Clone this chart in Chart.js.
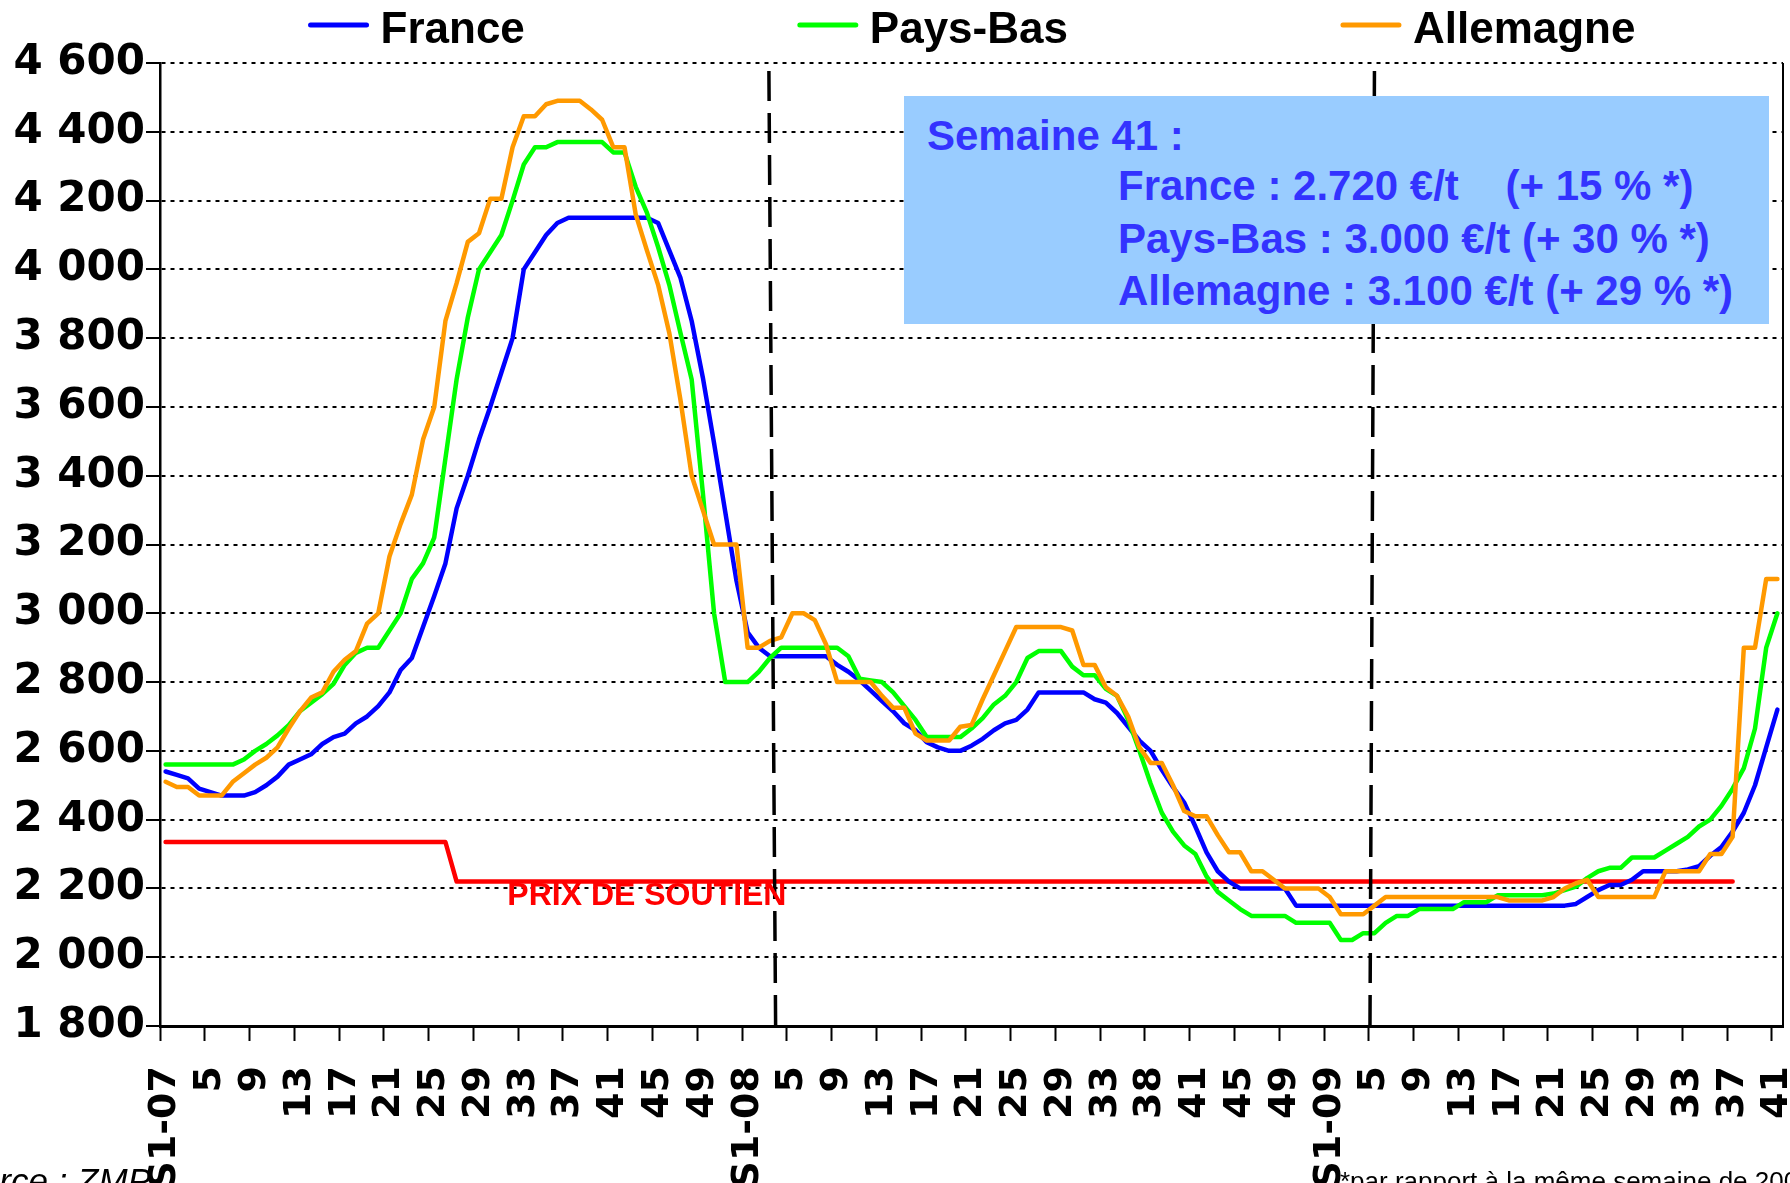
<!DOCTYPE html>
<html lang="fr">
<head>
<meta charset="utf-8">
<title>Prix hebdomadaires</title>
<script src="https://cdn.jsdelivr.net/npm/chart.js@4.4.1/dist/chart.umd.min.js"></script>
<style>
  html, body { margin: 0; padding: 0; background: #fff; overflow: hidden; }
  #cadre { position: relative; width: 1790px; height: 1183px; }
  #encadre {
    position: absolute; left: 904px; top: 96px; width: 865px; height: 228px;
    background: #99ccff; color: #3333ff;
    font: bold 42px "Liberation Sans", Arial, sans-serif;
  }
  #encadre div { position: absolute; white-space: pre; line-height: 48px; }
</style>
</head>
<body>
<div id="cadre">
  <canvas id="graphique" width="1790" height="1183"></canvas>
  <div id="encadre">
    <div style="left:23px; top:16px">Semaine 41 :</div>
    <div style="left:214px; top:66px">France : 2.720 €/t    (+ 15 % *)</div>
    <div style="left:214px; top:119px">Pays-Bas : 3.000 €/t (+ 30 % *)</div>
    <div style="left:214px; top:171px">Allemagne : 3.100 €/t (+ 29 % *)</div>
  </div>
</div>
<script>
// semaines : S1-07 .. 52, S1-08 .. 52, S1-09 .. 41
function semaines(annee, liste) {
  return liste.map((s, i) => (i === 0 ? 'S1-' + annee : String(s)));
}
function suite(a, b) {
  const r = [];
  for (let s = a; s <= b; s++) r.push(s);
  return r;
}
const semaines2007 = suite(1, 52);
const semaines2008 = [...suite(1, 36), 38, ...suite(38, 52)];
const semaines2009 = suite(1, 41);
const categories = [
  ...semaines('07', semaines2007),
  ...semaines('08', semaines2008),
  ...semaines('09', semaines2009),
];

// €/t
const france = [
  2540, 2530, 2520, 2490, 2480, 2470, 2470, 2470, 2480, 2500, 2525, 2560, 2575,
  2590, 2620, 2640, 2650, 2680, 2700, 2730, 2770, 2835, 2870, 2960, 3050, 3145,
  3305, 3400, 3505, 3600, 3700, 3800, 4000, 4050, 4100, 4135, 4150, 4150, 4150,
  4150, 4150, 4150, 4150, 4150, 4135, 4055, 3975, 3850, 3685, 3495, 3295, 3095,
  2945, 2900, 2875, 2875, 2875, 2875, 2875, 2875, 2850, 2830, 2805, 2775, 2745,
  2715, 2680, 2660, 2625, 2610, 2600, 2600, 2615, 2635, 2660, 2680, 2690, 2720,
  2770, 2770, 2770, 2770, 2770, 2750, 2740, 2710, 2670, 2630, 2600, 2545, 2495,
  2450, 2380, 2305, 2250, 2220, 2200, 2200, 2200, 2200, 2200, 2150, 2150, 2150,
  2150, 2150, 2150, 2150, 2150, 2150, 2150, 2150, 2150, 2150, 2150, 2150, 2150,
  2150, 2150, 2150, 2150, 2150, 2150, 2150, 2150, 2150, 2155, 2175, 2195, 2210,
  2210, 2225, 2250, 2250, 2250, 2250, 2255, 2265, 2295, 2320, 2365, 2420, 2500,
  2610, 2720,
];
const paysBas = [
  2560, 2560, 2560, 2560, 2560, 2560, 2560, 2575, 2600, 2620, 2645, 2675, 2715,
  2740, 2765, 2795, 2850, 2885, 2900, 2900, 2950, 3000, 3100, 3145, 3220, 3450,
  3680, 3860, 4000, 4050, 4100, 4200, 4305, 4355, 4355, 4370, 4370, 4370, 4370,
  4370, 4340, 4340, 4240, 4165, 4065, 3955, 3815, 3680, 3350, 3000, 2800, 2800,
  2800, 2830, 2870, 2900, 2900, 2900, 2900, 2900, 2900, 2875, 2810, 2805, 2800,
  2770, 2730, 2690, 2640, 2640, 2640, 2640, 2665, 2695, 2735, 2760, 2800, 2870,
  2890, 2890, 2890, 2845, 2820, 2820, 2780, 2760, 2690, 2600, 2505, 2420, 2365,
  2325, 2300, 2235, 2190, 2165, 2140, 2120, 2120, 2120, 2120, 2100, 2100, 2100,
  2100, 2050, 2050, 2070, 2070, 2100, 2120, 2120, 2140, 2140, 2140, 2140, 2160,
  2160, 2160, 2180, 2180, 2180, 2180, 2180, 2185, 2195, 2205, 2230, 2250, 2260,
  2260, 2290, 2290, 2290, 2310, 2330, 2350, 2380, 2400, 2440, 2490, 2550, 2665,
  2900, 3000,
];
const allemagne = [
  2510, 2495, 2495, 2470, 2470, 2470, 2510, 2535, 2560, 2580, 2610, 2665, 2715,
  2755, 2770, 2830, 2865, 2890, 2970, 3000, 3165, 3260, 3345, 3505, 3600, 3850,
  3960, 4080, 4105, 4205, 4205, 4355, 4445, 4445, 4480, 4490, 4490, 4490, 4465,
  4435, 4355, 4355, 4160, 4055, 3955, 3815, 3620, 3400, 3300, 3200, 3200, 3200,
  2900, 2900, 2920, 2930, 3000, 3000, 2980, 2910, 2800, 2800, 2800, 2800, 2760,
  2725, 2725, 2650, 2630, 2630, 2630, 2670, 2675, 2750, 2820, 2890, 2960, 2960,
  2960, 2960, 2960, 2950, 2850, 2850, 2785, 2760, 2700, 2610, 2565, 2565, 2500,
  2425, 2410, 2410, 2355, 2305, 2305, 2250, 2250, 2225, 2200, 2200, 2200, 2200,
  2175, 2125, 2125, 2125, 2150, 2175, 2175, 2175, 2175, 2175, 2175, 2175, 2175,
  2175, 2175, 2175, 2165, 2165, 2165, 2165, 2175, 2200, 2215, 2225, 2175, 2175,
  2175, 2175, 2175, 2175, 2250, 2250, 2250, 2250, 2300, 2300, 2350, 2900, 2900,
  3100, 3100,
];
const prixSoutien = [
  2335, 2335, 2335, 2335, 2335, 2335, 2335, 2335, 2335, 2335, 2335, 2335, 2335,
  2335, 2335, 2335, 2335, 2335, 2335, 2335, 2335, 2335, 2335, 2335, 2335, 2335,
  2220, 2220, 2220, 2220, 2220, 2220, 2220, 2220, 2220, 2220, 2220, 2220, 2220,
  2220, 2220, 2220, 2220, 2220, 2220, 2220, 2220, 2220, 2220, 2220, 2220, 2220,
  2220, 2220, 2220, 2220, 2220, 2220, 2220, 2220, 2220, 2220, 2220, 2220, 2220,
  2220, 2220, 2220, 2220, 2220, 2220, 2220, 2220, 2220, 2220, 2220, 2220, 2220,
  2220, 2220, 2220, 2220, 2220, 2220, 2220, 2220, 2220, 2220, 2220, 2220, 2220,
  2220, 2220, 2220, 2220, 2220, 2220, 2220, 2220, 2220, 2220, 2220, 2220, 2220,
  2220, 2220, 2220, 2220, 2220, 2220, 2220, 2220, 2220, 2220, 2220, 2220, 2220,
  2220, 2220, 2220, 2220, 2220, 2220, 2220, 2220, 2220, 2220, 2220, 2220, 2220,
  2220, 2220, 2220, 2220, 2220, 2220, 2220, 2220, 2220, 2220, 2220, null, null,
  null, null,
];

const yMin = 1800;
const yMax = 4600;
const yPas = 200;

// changements d'année, en rang de semaine (haut et bas du trait)
const separations = [
  { haut: 53.9, bas: 54.5 },
  { haut: 108.0, bas: 107.6 },
];
// étiquette du prix de soutien : rang de semaine et niveau
const etiquetteSoutien = { texte: 'PRIX DE SOUTIEN', rang: 43, niveau: 2152 };

const police = '"Liberation Sans", Arial, sans-serif';
const policeAxes = '"DejaVu Sans", Verdana, sans-serif';
Chart.defaults.font.family = police;
Chart.defaults.color = '#000';

const milliers = (v) => String(v).replace(/\B(?=(\d{3})+(?!\d))/g, ' ');

const decor = {
  id: 'decor',
  afterDatasetsDraw(chart) {
    const { ctx, chartArea: a, scales: { x, y } } = chart;
    ctx.save();
    // bord droit du cadre
    ctx.strokeStyle = '#000';
    ctx.lineWidth = 2;
    ctx.beginPath();
    ctx.moveTo(a.right, a.top);
    ctx.lineTo(a.right, a.bottom);
    ctx.stroke();

    ctx.lineWidth = 3.5;
    ctx.setLineDash([30, 12]);
    separations.forEach((s) => {
      ctx.beginPath();
      ctx.moveTo(x.getPixelForValue(s.haut), a.top + 8);
      ctx.lineTo(x.getPixelForValue(s.bas), a.bottom);
      ctx.stroke();
    });
    ctx.setLineDash([]);

    ctx.fillStyle = '#ff0000';
    ctx.font = 'bold 32px ' + police;
    ctx.textAlign = 'center';
    ctx.textBaseline = 'alphabetic';
    ctx.fillText(
      etiquetteSoutien.texte,
      x.getPixelForValue(etiquetteSoutien.rang),
      y.getPixelForValue(etiquetteSoutien.niveau)
    );
    ctx.restore();
  },
  afterDraw(chart) {
    const { ctx, chartArea: a } = chart;
    ctx.save();
    // légende
    ctx.font = 'bold 44px ' + police;
    const trait = 62, ecart = 11, pas = 272;
    const series = chart.data.datasets.filter((d) => d.enLegende);
    const largeurs = series.map((d) => trait + ecart + ctx.measureText(d.label).width);
    const total = largeurs.reduce((s, w) => s + w, 0) + pas * (series.length - 1);
    let x0 = (a.left + a.right) / 2 - total / 2;
    series.forEach((d, i) => {
      ctx.strokeStyle = d.borderColor;
      ctx.lineWidth = 5;
      ctx.lineCap = 'round';
      ctx.beginPath();
      ctx.moveTo(x0 + 3, 25);
      ctx.lineTo(x0 + trait - 3, 25);
      ctx.stroke();
      ctx.fillStyle = '#000';
      ctx.textAlign = 'left';
      ctx.textBaseline = 'alphabetic';
      ctx.fillText(d.label, x0 + trait + ecart, 43);
      x0 += largeurs[i] + pas;
    });

    // source et renvoi
    ctx.font = 'italic 35px ' + police;
    ctx.textAlign = 'right';
    ctx.fillText('Source : ZMP', 151, 1193);
    ctx.font = '26px ' + police;
    ctx.textAlign = 'left';
    ctx.fillText('*par rapport à la même semaine de 2008', 1340, 1190);
    ctx.restore();
  },
};

const serie = (label, data, couleur, ordre, enLegende) => ({
  label,
  data,
  borderColor: couleur,
  backgroundColor: couleur,
  borderWidth: 4.5,
  pointRadius: 0,
  tension: 0,
  borderJoinStyle: 'round',
  borderCapStyle: 'round',
  spanGaps: false,
  order: ordre,
  enLegende,
});

new Chart(document.getElementById('graphique'), {
  type: 'line',
  data: {
    labels: categories,
    datasets: [
      serie('France', france, '#0000ff', 3, true),
      serie('Pays-Bas', paysBas, '#00ff00', 2, true),
      serie('Allemagne', allemagne, '#ff9900', 1, true),
      serie('Prix de soutien', prixSoutien, '#ff0000', 4, false),
    ],
  },
  options: {
    responsive: false,
    animation: false,
    devicePixelRatio: 1,
    layout: { padding: { top: 63, right: 7, left: 0, bottom: 0 } },
    plugins: {
      legend: { display: false },
      tooltip: { enabled: false },
    },
    scales: {
      x: {
        offset: true,
        grid: {
          offset: true,
          drawOnChartArea: false,
          drawTicks: true,
          tickLength: 15,
          tickWidth: 2,
          tickColor: (c) => (c.index % 4 === 0 ? '#000' : 'rgba(0,0,0,0)'),
        },
        border: { display: true, color: '#000', width: 3 },
        ticks: {
          autoSkip: false,
          maxRotation: 90,
          minRotation: 90,
          padding: 25,
          color: '#000',
          font: { family: policeAxes, size: 38, weight: 'bold' },
          callback: (v, i) => (i % 4 === 0 ? categories[i] : ''),
        },
        afterFit: (s) => {
          s.height = 157;
          s.paddingLeft = 0;
          s.paddingRight = 0;
        },
      },
      y: {
        min: yMin,
        max: yMax,
        grid: {
          color: '#000',
          lineWidth: 2,
          drawTicks: true,
          tickLength: 14,
          tickWidth: 2,
          tickColor: '#000',
        },
        border: { display: true, color: '#000', width: 2.5, dash: [4, 5] },
        ticks: {
          stepSize: yPas,
          padding: 1,
          color: '#000',
          font: { family: policeAxes, size: 42, weight: 'bold' },
          callback: (v) => milliers(v),
        },
        afterFit: (s) => {
          s.width = 160;
          s.paddingTop = 0;
          s.paddingBottom = 0;
        },
      },
    },
  },
  plugins: [decor],
});
</script>
</body>
</html>
